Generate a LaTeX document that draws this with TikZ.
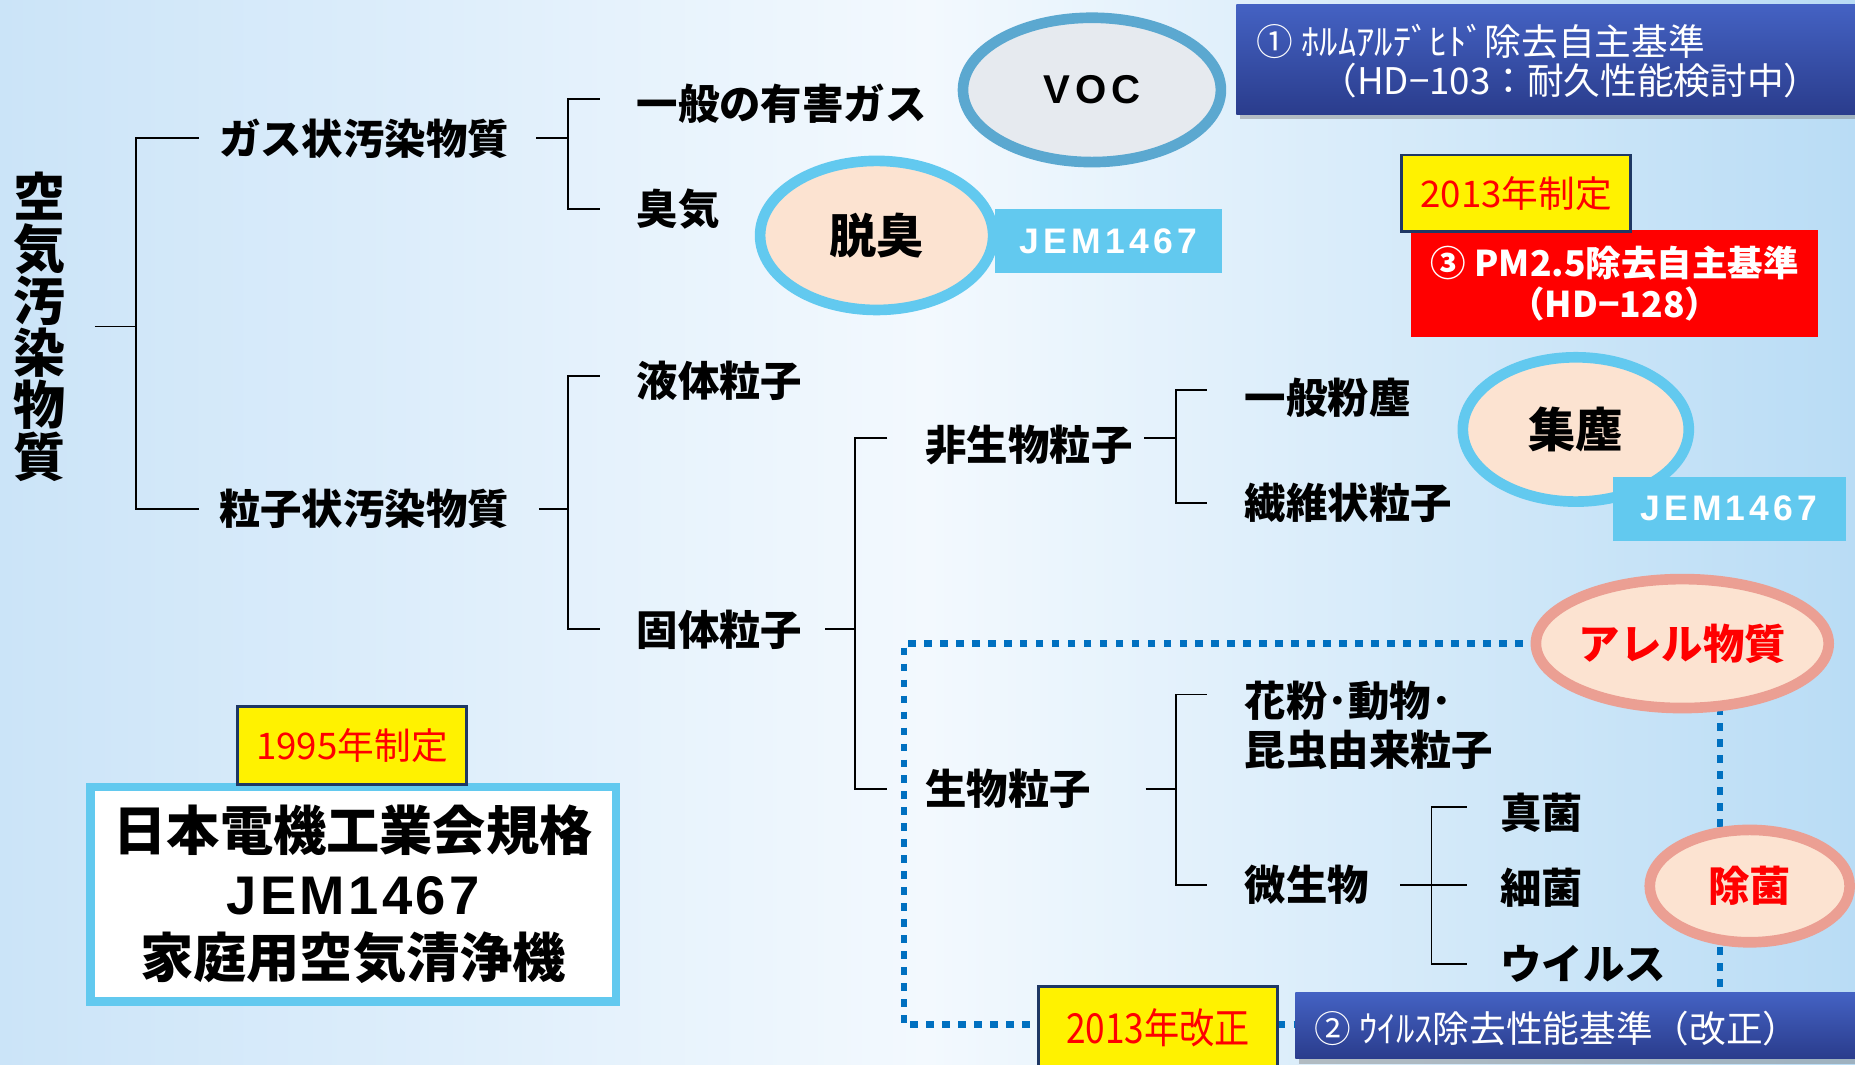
\documentclass[tikz,border=0pt]{standalone}
\usepackage{fontspec}
\usetikzlibrary{shapes.geometric,shadows}
\newfontfamily\jp{Noto Sans CJK JP}
\newfontfamily\jpn[FakeStretch=0.85]{Noto Sans CJK JP}
\newfontfamily\arl[LetterSpace=12]{Liberation Sans}
\newfontfamily\arlw[LetterSpace=6]{Liberation Sans}
\newcommand\myfs[1]{\fontsize{#1}{#1}\selectfont}
\definecolor{sky}{HTML}{62C9EF}
\definecolor{peach}{HTML}{FCE3D1}
\definecolor{vocblue}{HTML}{5BA8D0}
\definecolor{vocfill}{HTML}{E6EAEF}
\definecolor{salmon}{HTML}{EB9F93}
\definecolor{dotblue}{HTML}{0070C0}
\definecolor{navy}{HTML}{1F3864}
\definecolor{boxtop}{HTML}{4462C3}
\definecolor{boxbot}{HTML}{2A3C8C}
\definecolor{bgl}{HTML}{CBE4F8}
\definecolor{bgm}{HTML}{F3F9FE}
\definecolor{bgr}{HTML}{B9DCF5}
\pgfdeclarelayer{bg}
\pgfsetlayers{bg,main}
\begin{document}
\begin{tikzpicture}[x=1pt,y=-1pt,
  lab/.style={font=\jp\bfseries\myfs{35}, inner sep=0pt, anchor=west},
  treeline/.style={line width=1.6pt, draw=black},
  dotline/.style={draw=dotblue, line width=5.5pt, dash pattern=on 6.5pt off 7pt},
  oval/.style={ellipse, line width=9pt, inner sep=0pt},
  jembox/.style={fill=sky, inner sep=0pt, font=\arl\bfseries\myfs{30}, text=white},
  ybox/.style={fill=yellow, draw=navy, line width=2.5pt, inner sep=0pt, font=\jp\myfs{31}, text=red},
  bluebox/.style={top color=boxtop, bottom color=boxbot, inner sep=0pt, drop shadow={shadow xshift=3pt, shadow yshift=-4pt, opacity=0.45}},
  wtext/.style={font=\jp\myfs{31}, text=white, inner sep=0pt, anchor=west}
]
\useasboundingbox (0,0) rectangle (1568,900);

% ---------- tree labels ----------
\node[font=\jp\bfseries\myfs{44}, align=center, inner sep=0pt] (root) at (33,276) {空\\気\\汚\\染\\物\\質};
\node[lab] (gas) at (185,117) {ガス状汚染物質};
\node[lab] (part) at (185,430) {粒子状汚染物質};
\node[lab] (gen) at (538,88) {一般の有害ガス};
\node[lab] (odor) at (538,177) {臭気};
\node[lab] (liq) at (538,322) {液体粒子};
\node[lab] (sol) at (538,532) {固体粒子};
\node[lab] (nonbio) at (782,376) {非生物粒子};
\node[lab] (bio) at (782,667) {生物粒子};
\node[lab] (dust) at (1052,336) {一般粉塵};
\node[lab] (fiber) at (1052,425) {繊維状粒子};
\node[lab, font=\jp\bfseries\fontsize{35}{42}\selectfont, align=left] (pollen) at (1052,613) {花粉･動物･\\昆虫由来粒子};
\node[lab] (micro) at (1052,748) {微生物};
\node[lab] (fungi) at (1268,687) {真菌};
\node[lab] (bact) at (1268,750) {細菌};
\node[lab] (virus) at (1268,815) {ウイルス};

% ---------- junctions ----------
\coordinate (j1) at (115,276);
\coordinate (j2) at (480,117);
\coordinate (j3) at (480,430);
\coordinate (j4) at (723,532);
\coordinate (j5) at (994,370);
\coordinate (j6) at (994,667);
\coordinate (j7) at (1210,748);

% ---------- tree lines ----------
\draw[treeline] ([xshift=25pt]root.east |- j1) -- (j1);
\draw[treeline] ([xshift=-17pt]gas.west) -| (j1) |- ([xshift=-17pt]part.west);
\draw[treeline] ([xshift=23pt]gas.east) -- (j2);
\draw[treeline] ([xshift=-31pt,yshift=4pt]gen.west) -| (j2) |- ([xshift=-31pt]odor.west);
\draw[treeline] ([xshift=25pt]part.east) -- (j3);
\draw[treeline] ([xshift=-31pt,yshift=4pt]liq.west) -| (j3) |- ([xshift=-31pt]sol.west);
\draw[treeline] ([xshift=19pt]sol.east) -- (j4);
\draw[treeline] ([xshift=-32pt,yshift=6pt]nonbio.west) -| (j4) |- ([xshift=-32pt]bio.west);
\draw[treeline] ([xshift=10pt,yshift=6pt]nonbio.east) -- (j5);
\draw[treeline] ([xshift=-32pt,yshift=6pt]dust.west) -| (j5) |- ([xshift=-32pt]fiber.west);
\draw[treeline] ([xshift=46pt]bio.east) -- (j6);
\draw[treeline] ([xshift=-32pt,yshift=26pt]pollen.west) -| (j6) |- ([xshift=-32pt]micro.west);
\draw[treeline] ([xshift=26pt]micro.east) -- (j7);
\draw[treeline] ([xshift=-28pt,yshift=5pt]fungi.west) -| (j7) |- ([xshift=-28pt]virus.west);
\draw[treeline] (j7) -- ([xshift=-28pt]bact.west |- j7);

% ---------- ovals and JEM tags ----------
\node[oval, draw=vocblue, fill=vocfill, minimum width=218pt, minimum height=122pt, font=\arl\bfseries\myfs{34}] (voc) at (923,76) {VOC};
\node[jembox, minimum width=192pt, minimum height=54pt] (jem1) at (937,204) {JEM1467};
\node[oval, draw=sky, fill=peach, minimum width=197pt, minimum height=126pt, font=\jp\bfseries\myfs{40}] (deo) at (741,199) {脱臭};
\node[oval, draw=sky, fill=peach, minimum width=191pt, minimum height=122pt, font=\jp\bfseries\myfs{40}] (dustc) at (1332,363) {集塵};
\node[jembox, minimum width=197pt, minimum height=54pt] (jem2) at (1461.5,430) {JEM1467};
\node[oval, draw=salmon, fill=peach, minimum width=245pt, minimum height=109pt, font=\jp\bfseries\myfs{35}, text=red] (allergy) at (1422,544) {アレル物質};
\node[oval, draw=salmon, fill=peach, minimum width=169pt, minimum height=95pt, font=\jp\bfseries\myfs{35}, text=red] (steril) at (1479,749) {除菌};

% ---------- standard boxes ----------
\node[bluebox, minimum width=540pt, minimum height=93pt] (hcho) at (1315,50.5) {};
\node[wtext] (hcho1) at (1062,35) {① ﾎﾙﾑｱﾙﾃﾞﾋﾄﾞ除去自主基準};
\node[wtext] (hcho2) at (1116,68) {（HD−103：耐久性能検討中）};

\node[fill=red, minimum width=344pt, minimum height=91pt, inner sep=0pt, text=white, font=\jp\bfseries\fontsize{30}{35}\selectfont, align=center] (pm) at (1365,239.5) {③ PM2.5除去自主基準\\（HD−128）};
\node[ybox, minimum width=193pt, minimum height=65pt] (y2013) at (1281.5,163.5) {2013年制定};

\node[draw=sky, line width=7pt, fill=white, minimum width=444pt, minimum height=181pt, inner sep=0pt, align=center, font=\jp\bfseries\fontsize{45}{54}\selectfont, drop shadow={shadow xshift=3pt, shadow yshift=-4pt, opacity=0.35}] (jem) at (298.5,756) {日本電機工業会規格\\{\arlw\bfseries\myfs{46}JEM1467}\\家庭用空気清浄機};
\node[ybox, minimum width=193pt, minimum height=66pt] (y1995) at (297.5,630) {1995年制定};

\node[ybox, font=\jpn\myfs{35}, minimum width=202pt, minimum height=69pt] (y2013k) at (979,868.5) {2013年改正};
\node[bluebox, minimum width=490pt, minimum height=56pt] (v2box) at (1340,867) {};
\node[wtext] (v2t) at (1111,869) {② ｳｲﾙｽ除去性能基準（改正）};

% ---------- background and dotted links ----------
\begin{pgfonlayer}{bg}
\shade[left color=bgl, right color=bgr, middle color=bgm] (0,0) rectangle (1568,900);
\coordinate (dC) at (764,866);
\draw[dotline] (allergy.center) -| (dC) -- (v2box.west |- dC);
\draw[dotline] ([xshift=32pt]allergy.center) -- ([xshift=32pt]allergy.center |- v2box.north);
\end{pgfonlayer}
\end{tikzpicture}
\end{document}
